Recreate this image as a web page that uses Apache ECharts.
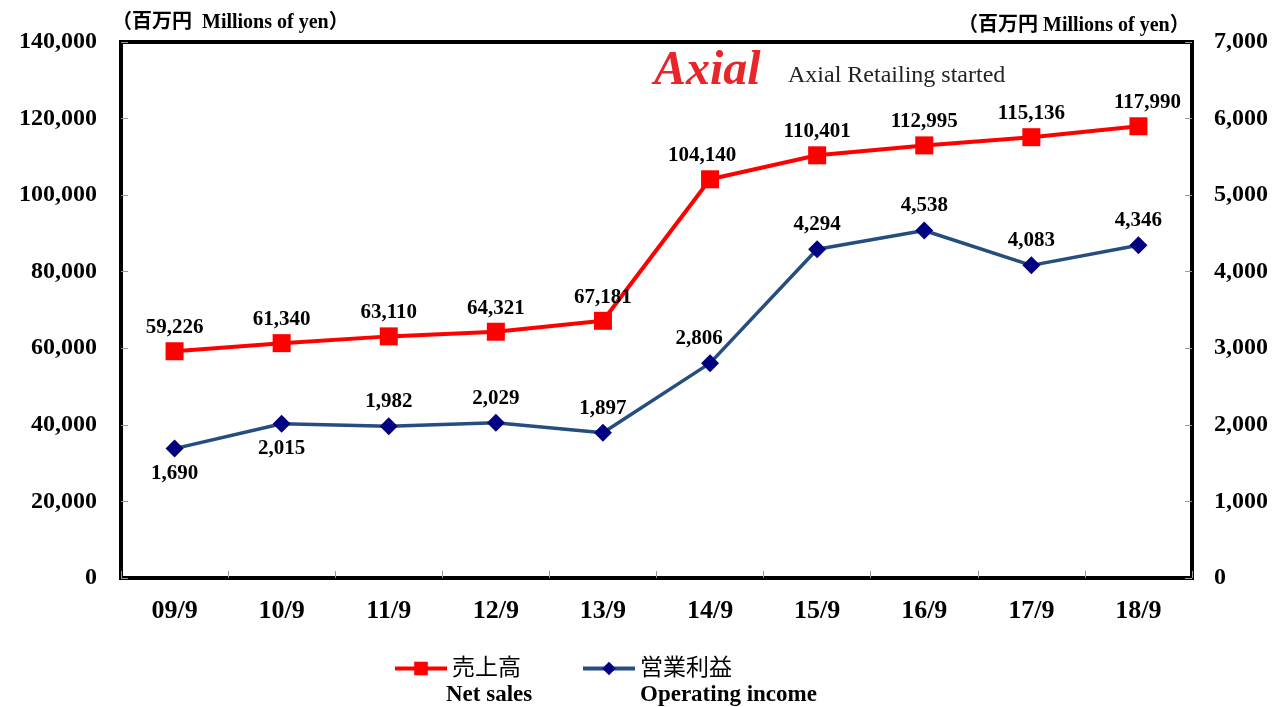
<!DOCTYPE html>
<html>
<head>
<meta charset="utf-8">
<script src="https://cdn.jsdelivr.net/npm/echarts@6/dist/echarts.min.js"></script>
<style>
html,body{margin:0;padding:0;background:#fff;}
#chart{width:1278px;height:707px;}
</style>
</head>
<body>
<div id="chart"></div>
<script>
const categories = ['09/9','10/9','11/9','12/9','13/9','14/9','15/9','16/9','17/9','18/9'];
const netSales = [59226, 61340, 63110, 64321, 67181, 104140, 110401, 112995, 115136, 117990];
const operatingIncome = [1690, 2015, 1982, 2029, 1897, 2806, 4294, 4538, 4083, 4346];
const oiLabelPos = ['bottom','bottom','top','top','top','top','top','top','top','top'];
const nsLabelOffsetX = [0,0,0,0,0,-8,0,0,0,9];
const oiLabelOffsetX = [0,0,0,0,0,-11,0,0,0,0];

const SERIF = "'Liberation Serif','Times New Roman',serif";
const JP = "'Liberation Serif','Noto Sans CJK JP',sans-serif";

const chart = echarts.init(document.getElementById('chart'));
const fmt = v => Number(v).toLocaleString('en-US');

const option = {
  backgroundColor: '#fff',
  animation: false,
  grid: { left: 121, right: 86, top: 42, bottom: 129, show: true, borderColor: '#000', borderWidth: 4, backgroundColor: 'transparent' },
  legend: {
    left: 388, top: 652, itemWidth: 52, itemHeight: 17, itemGap: 60,
    textStyle: { fontFamily: JP, fontSize: 23, color: '#000' },
    data: [
      { name: '売上高', lineStyle: { width: 4 } },
      { name: '営業利益', lineStyle: { width: 4 } }
    ]
  },
  xAxis: {
    type: 'category', data: categories, boundaryGap: true,
    axisLine: { show: false },
    axisTick: { show: true, inside: true, length: 7, lineStyle: { color: '#999', width: 1 } },
    axisLabel: { fontFamily: SERIF, fontWeight: 'bold', fontSize: 26, color: '#000', margin: 20 },
    splitLine: { show: false }
  },
  yAxis: [
    {
      type: 'value', min: 0, max: 140000, interval: 20000, position: 'left',
      axisLine: { show: false },
      axisTick: { show: true, inside: true, length: 7, lineStyle: { color: '#999', width: 1 } },
      axisLabel: { fontFamily: SERIF, fontWeight: 'bold', fontSize: 24, color: '#000', margin: 24, formatter: fmt },
      splitLine: { show: false }
    },
    {
      type: 'value', min: 0, max: 7000, interval: 1000, position: 'right',
      axisLine: { show: false },
      axisTick: { show: true, inside: true, length: 7, lineStyle: { color: '#999', width: 1 } },
      axisLabel: { fontFamily: SERIF, fontWeight: 'bold', fontSize: 24, color: '#000', margin: 22, formatter: fmt },
      splitLine: { show: false }
    }
  ],
  graphic: [
    { type: 'text', left: 112, top: 13, style: { text: '（百万円  Millions of yen）', fontFamily: JP, fontWeight: 'bold', fontSize: 20, fill: '#000' } },
    { type: 'text', left: 958, top: 16, style: { text: '（百万円 Millions of yen）', fontFamily: JP, fontWeight: 'bold', fontSize: 20, fill: '#000' } },
    { type: 'text', left: 654, top: 48, style: { text: 'Axial', fontFamily: SERIF, fontWeight: 'bold', fontStyle: 'italic', fontSize: 48, fill: '#E8262A' } },
    { type: 'text', left: 788, top: 64, style: { text: 'Axial Retailing started', fontFamily: SERIF, fontSize: 24, fill: '#222' } },
    { type: 'text', left: 446, top: 684, style: { text: 'Net sales', fontFamily: SERIF, fontWeight: 'bold', fontSize: 23, fill: '#000' } },
    { type: 'text', left: 640, top: 684, style: { text: 'Operating income', fontFamily: SERIF, fontWeight: 'bold', fontSize: 23, fill: '#000' } }
  ],
  series: [
    {
      name: '売上高', type: 'line', yAxisIndex: 0,
      data: netSales.map((v, i) => ({ value: v, label: { offset: [nsLabelOffsetX[i], 0] } })),
      symbol: 'rect', symbolSize: 18,
      lineStyle: { color: '#FF0000', width: 4 },
      itemStyle: { color: '#FF0000' },
      label: { show: true, position: 'top', distance: 4, fontFamily: SERIF, fontWeight: 'bold', fontSize: 21, color: '#000', formatter: p => fmt(p.value) },
      z: 3
    },
    {
      name: '営業利益', type: 'line', yAxisIndex: 1,
      data: operatingIncome.map((v, i) => ({ value: v, label: { position: oiLabelPos[i], offset: [oiLabelOffsetX[i], 0] } })),
      symbol: 'diamond', symbolSize: 18,
      lineStyle: { color: '#254D7E', width: 3.5 },
      itemStyle: { color: '#000080' },
      label: { show: true, distance: 5, fontFamily: SERIF, fontWeight: 'bold', fontSize: 21, color: '#000', formatter: p => fmt(p.value) },
      z: 3
    }
  ]
};
chart.setOption(option);
</script>
</body>
</html>
